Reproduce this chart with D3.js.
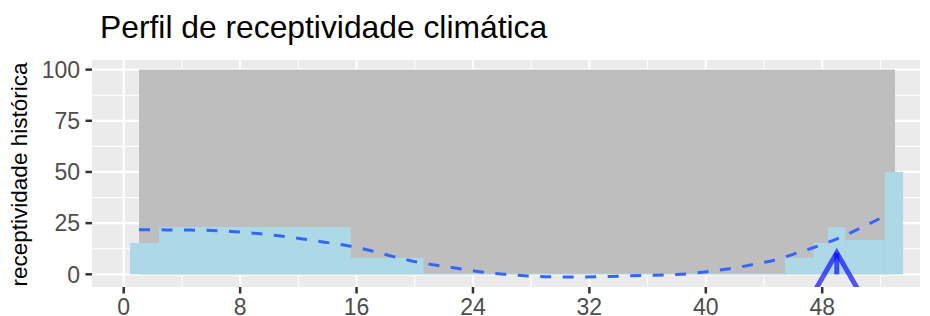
<!DOCTYPE html>
<html>
<head>
<meta charset="utf-8">
<script src="https://cdn.jsdelivr.net/npm/d3@7"></script>
<style>
	body { margin: 0; background: #fff; }
	text { font-family: "Liberation Sans", Arial, sans-serif; }
</style>
</head>
<body>
<div id="chart"></div>
<script>
document.addEventListener("DOMContentLoaded", main);
var canvas = {};

// bins of the historical receptivity (weeks)
var binStart = [0.43, 2.43, 15.6, 20.6, 45.45, 47.4, 48.4, 49.6, 52.3];
var binEnd = [2.43, 15.6, 20.6, 45.45, 47.4, 48.4, 49.6, 52.3, 53.56];
var binValue = [15.3, 23.1, 8, 0.4, 8.1, 15.3, 23, 16.8, 50];

// grey band behind
var bandWeeks = [1.05, 53];
var bandValues = [0, 100];

// dashed smooth trend
var smoothWeek = [1.05, 3.0, 4.55, 6.1, 7.65, 9.2, 10.8, 12.3, 13.9, 15.5, 17.0, 18.4, 20.0, 21.5, 23.1, 24.6, 26.2, 27.8, 29.3, 30.9, 32.5, 34.0, 35.6, 37.2, 38.7, 40.3, 41.8, 43.4, 44.9, 46.3, 47.9, 49.4, 50.8, 52.2, 52.55];
var smoothValue = [21.8, 21.7, 21.6, 21.4, 20.8, 19.9, 18.7, 17.3, 15.6, 13.8, 11.5, 8.9, 6.2, 4.4, 2.7, 1.1, 0, -0.8, -1.2, -1.3, -1.2, -0.9, -0.6, -0.3, 0.2, 1.5, 2.9, 5.0, 7.3, 10.5, 14.3, 18.5, 23.2, 28.2, 29.6];

// current week marker
var markWeek = 49;
var markFrom = 0;
var markTo = 10.5;

var xTicks = [0, 8, 16, 24, 32, 40, 48];
var xMinor = [-4, 4, 12, 20, 28, 36, 44, 52];
var yTicks = [0, 25, 50, 75, 100];
var yMinor = [12.5, 37.5, 62.5, 87.5];


function addCanvas(cont) {
	canvas.cont = d3.select(cont);
	canvas.bounds = { width: 930, height: 316 };
	canvas.panel = { left: 92, right: 920, top: 60, bottom: 287 };

	canvas.svg = canvas.cont.append("svg")
		.attr("width", canvas.bounds.width)
		.attr("height", canvas.bounds.height);

	canvas.svg.append("defs").append("clipPath")
		.attr("id", "panel-clip")
		.append("rect")
		.attr("x", canvas.panel.left)
		.attr("y", canvas.panel.top)
		.attr("width", canvas.panel.right - canvas.panel.left)
		.attr("height", canvas.panel.bottom - canvas.panel.top);
}


function drawChart() {
	var p = canvas.panel;
	var svg = canvas.svg;

	var x = d3.scaleLinear()
		.domain([-2.18, 54.72])
		.range([p.left, p.right]);

	var y = d3.scaleLinear()
		.domain([-6.2, 104.7])
		.range([p.bottom, p.top]);

	svg.append("rect")
		.attr("x", p.left)
		.attr("y", p.top)
		.attr("width", p.right - p.left)
		.attr("height", p.bottom - p.top)
		.attr("fill", "#EBEBEB");

	var grid = svg.append("g").attr("clip-path", "url(#panel-clip)");

	grid.selectAll(".xminor").data(xMinor).enter().append("line")
		.attr("x1", (d) => x(d)).attr("x2", (d) => x(d))
		.attr("y1", p.top).attr("y2", p.bottom)
		.attr("stroke", "#fff").attr("stroke-width", 1.1);
	grid.selectAll(".yminor").data(yMinor).enter().append("line")
		.attr("y1", (d) => y(d)).attr("y2", (d) => y(d))
		.attr("x1", p.left).attr("x2", p.right)
		.attr("stroke", "#fff").attr("stroke-width", 1.1);
	grid.selectAll(".xmajor").data(xTicks).enter().append("line")
		.attr("x1", (d) => x(d)).attr("x2", (d) => x(d))
		.attr("y1", p.top).attr("y2", p.bottom)
		.attr("stroke", "#fff").attr("stroke-width", 2.2);
	grid.selectAll(".ymajor").data(yTicks).enter().append("line")
		.attr("y1", (d) => y(d)).attr("y2", (d) => y(d))
		.attr("x1", p.left).attr("x2", p.right)
		.attr("stroke", "#fff").attr("stroke-width", 2.2);

	var g = svg.append("g").attr("clip-path", "url(#panel-clip)");

	g.append("rect")
		.attr("x", x(bandWeeks[0]))
		.attr("y", y(bandValues[1]))
		.attr("width", x(bandWeeks[1]) - x(bandWeeks[0]))
		.attr("height", y(bandValues[0]) - y(bandValues[1]))
		.attr("fill", "#BEBEBE");

	g.selectAll(".bin").data(binValue).enter().append("rect")
		.attr("class", "bin")
		.attr("x", (d, i) => x(binStart[i]))
		.attr("width", (d, i) => x(binEnd[i]) - x(binStart[i]))
		.attr("y", (d) => y(d))
		.attr("height", (d) => y(0) - y(d))
		.attr("fill", "#ADD8E6");

	var pts = smoothWeek.map((w, i) => [w, smoothValue[i]]);
	var line = d3.line()
		.x((d) => x(d[0]))
		.y((d) => y(d[1]))
		.curve(d3.curveMonotoneX);

	g.append("path")
		.attr("d", line(pts))
		.attr("fill", "none")
		.attr("stroke", "#3366FF")
		.attr("stroke-width", 3)
		.attr("stroke-dasharray", "11,11.5");

	// arrow pointing to the current week
	var tipX = x(markWeek), tipY = y(markTo);
	var headLen = 60, ang = Math.PI / 6;
	g.append("line")
		.attr("x1", tipX).attr("x2", tipX)
		.attr("y1", y(markFrom)).attr("y2", tipY)
		.attr("stroke", "blue").attr("stroke-opacity", 0.65)
		.attr("stroke-width", 5);
	g.append("path")
		.attr("d", "M" + (tipX - headLen * Math.sin(ang)) + "," + (tipY + headLen * Math.cos(ang))
			+ "L" + tipX + "," + tipY
			+ "L" + (tipX + headLen * Math.sin(ang)) + "," + (tipY + headLen * Math.cos(ang)))
		.attr("fill", "none")
		.attr("stroke", "blue").attr("stroke-opacity", 0.65)
		.attr("stroke-width", 5)
		.attr("stroke-linejoin", "mitre");

	// axes
	var xa = svg.append("g");
	xa.selectAll("line").data(xTicks).enter().append("line")
		.attr("x1", (d) => x(d)).attr("x2", (d) => x(d))
		.attr("y1", p.bottom).attr("y2", p.bottom + 6.5)
		.attr("stroke", "#333").attr("stroke-width", 2.5);
	xa.selectAll("text").data(xTicks).enter().append("text")
		.attr("x", (d) => x(d))
		.attr("y", p.bottom + 28)
		.attr("text-anchor", "middle")
		.attr("font-size", 23)
		.attr("fill", "#4D4D4D")
		.text((d) => d);

	var ya = svg.append("g");
	ya.selectAll("line").data(yTicks).enter().append("line")
		.attr("x1", p.left - 6.5).attr("x2", p.left)
		.attr("y1", (d) => y(d)).attr("y2", (d) => y(d))
		.attr("stroke", "#333").attr("stroke-width", 2.5);
	ya.selectAll("text").data(yTicks).enter().append("text")
		.attr("x", p.left - 12)
		.attr("y", (d) => y(d))
		.attr("dy", "0.36em")
		.attr("text-anchor", "end")
		.attr("font-size", 23)
		.attr("fill", "#4D4D4D")
		.text((d) => d);

	svg.append("text")
		.attr("transform", "translate(27," + ((p.top + p.bottom) / 2 + 1) + ") rotate(-90)")
		.attr("text-anchor", "middle")
		.attr("font-size", 22.5)
		.attr("fill", "#000")
		.text("receptividade histórica");

	svg.append("text")
		.attr("x", 100)
		.attr("y", 38)
		.attr("font-size", 31.8)
		.attr("fill", "#000")
		.text("Perfil de receptividade climática");
}


function main() {
	addCanvas("#chart");
	drawChart();
}
</script>
</body>
</html>
